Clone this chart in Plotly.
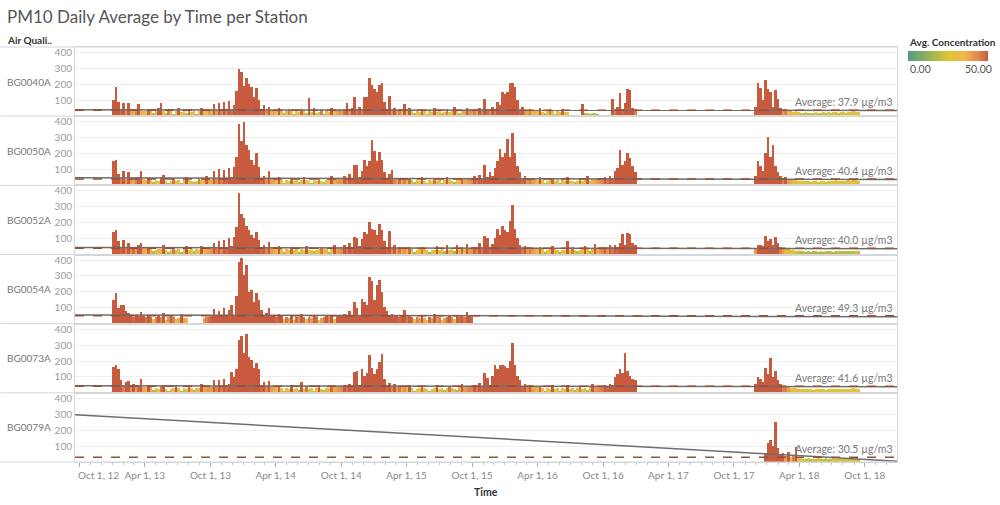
import pandas as pd
import plotly.graph_objects as go
from plotly.subplots import make_subplots

N = None
stations = ["BG0040A", "BG0050A", "BG0052A", "BG0054A", "BG0073A", "BG0079A"]
averages = [37.9, 40.4, 40.0, 49.3, 41.6, 30.5]
# trend line values read at the left and right ends of the time axis
trend_start = [40, 47, 44, 55, 45, 297]
trend_end = [36, 36, 36, 44, 38, 5]
x_start, x_end = "2012-09-18", "2018-12-30"
week0 = "2012-12-31"   # first weekly bucket, each year row holds 52 weeks
tick_dates = ["2012-10-01", "2013-04-01", "2013-10-01", "2014-04-01", "2014-10-01",
              "2015-04-01", "2015-10-01", "2016-04-01", "2016-10-01", "2017-04-01",
              "2017-10-01", "2018-04-01", "2018-10-01"]
tick_labels = ["Oct 1, 12", "Apr 1, 13", "Oct 1, 13", "Apr 1, 14", "Oct 1, 14",
               "Apr 1, 15", "Oct 1, 15", "Apr 1, 16", "Oct 1, 16", "Apr 1, 17",
               "Oct 1, 17", "Apr 1, 18", "Oct 1, 18"]

# weekly PM10 values (µg/m3), one row per year 2013..2018
bg0040a = [
    [100,185,90,48,85,42,80,40,38,45,74,36,35,
     32,48,35,18,30,52,80,30,22,45,34,16,30,50,26,32,20,46,28,36,15,33,52,30,36,42,
     38,75,40,85,44,90,46,95,48,70,160,295,280],
    [190,240,205,185,120,175,100,48,70,42,55,38,40,
     36,50,34,18,32,46,30,15,33,27,48,35,20,112,25,52,22,28,45,16,31,29,50,30,38,42,
     40,48,84,42,50,118,45,60,44,122,120,238,196],
    [170,150,198,210,90,48,126,42,50,38,45,35,76,
     34,50,36,18,32,25,48,33,15,30,28,52,26,31,17,29,46,27,32,55,36,20,33,38,50,42,
     40,45,38,50,44,105,48,42,60,46,91,70,154],
    [140,150,207,207,186,101,48,55,42,38,45,36,34,
     32,50,28,18,33,46,30,16,34,26,48,29,27,N,N,N,N,N,76,18,20,16,22,18,15,N,
     N,N,N,N,105,45,55,148,48,80,169,165,50],
    [45] + [N] * 47 + [60,207,180,100],
    [228,170,150,60,165,110,50,40,45,32,35,28,30,25,22,20,25,18,22,20,
     25,22,18,24,20,26,22,28,24,20,25,28,22,26,24,30,28,25],
]
bg0050a = [
    [150,160,70,45,86,40,80,42,38,45,50,86,36,
     34,48,36,18,32,26,50,65,25,16,27,46,24,30,15,35,52,31,29,18,27,45,30,36,55,40,
     38,90,42,100,45,95,48,110,50,114,180,382,276],
    [400,250,219,160,130,202,113,48,60,42,92,40,38,
     36,50,34,16,30,26,48,24,31,17,30,52,33,28,15,31,29,46,27,20,35,32,55,38,40,42,
     40,55,45,70,48,128,128,50,90,160,120,155,286],
    [213,150,210,160,80,48,70,97,44,40,48,38,45,
     36,48,34,18,30,27,50,25,16,33,26,46,24,32,15,30,52,33,28,18,31,36,48,38,40,42,
     44,55,46,65,48,128,50,80,60,110,150,230,180],
    [200,290,180,330,200,120,80,48,55,42,46,40,38,
     34,50,30,16,28,30,48,29,33,15,30,28,52,29,27,18,28,46,26,30,55,29,36,38,40,42,
     44,50,46,60,48,90,110,220,130,150,200,170,120],
    [80] + [N] * 47 + [60,150,120,90],
    [200,305,180,255,120,80,60,45,50,40,38,35,30,28,26,25,28,24,22,26,
     25,23,28,24,22,26,28,25,30,27,24,28,26,30,28,32,30,28],
]
bg0052a = [
    [140,150,80,48,90,45,70,42,48,40,60,70,38,
     36,48,35,18,28,33,31,55,27,16,25,46,29,33,15,32,50,27,30,18,31,29,52,35,38,40,
     42,70,45,80,44,90,48,100,50,110,170,385,250],
    [230,180,150,120,100,140,90,48,60,44,75,40,38,
     36,50,34,16,31,27,48,26,33,15,30,25,52,28,26,18,29,32,46,30,33,16,31,55,40,42,
     44,55,46,70,48,110,100,50,95,140,130,205,160],
    [150,120,187,150,80,48,144,44,55,40,46,38,42,
     36,48,31,16,28,30,46,32,29,15,27,29,50,28,30,18,60,29,32,17,60,30,48,35,66,40,
     42,48,44,70,46,117,100,48,65,102,159,120,180],
    [150,140,208,307,160,102,60,46,50,42,45,40,38,
     36,48,30,16,29,31,50,30,27,15,26,28,85,27,46,26,18,29,32,52,30,17,35,66,38,42,
     44,48,42,55,46,60,48,70,130,55,133,130,70],
    [60] + [N] * 47 + [40,60,55,50],
    [117,80,95,60,110,70,45,40,35,30,28,25,22,20,18,20,16,18,15,17,
     20,16,18,15,19,17,20,16,18,22,19,17,20,18,21,19,22,20],
]
bg0054a = [
    [154,196,100,118,118,85,70,55,48,60,52,76,50,
     46,60,48,30,45,58,44,71,25,42,55,45,30,38,62,40,36,N,N,N,N,N,N,40,45,48,
     50,97,55,80,52,103,58,90,118,60,180,392,414],
    [308,371,203,213,140,198,150,90,60,70,103,55,50,
     48,62,50,30,46,40,58,28,48,42,65,47,35,46,41,60,48,25,40,46,58,44,52,30,55,50,
     56,65,52,80,58,139,100,60,160,140,120,298,270],
    [150,245,277,200,110,80,60,65,52,55,48,58,91,
     46,60,48,30,45,41,58,38,25,48,40,62,42,45,28,40,47,60,44,30,52,48,55,46,76,50,
     48],
]
bg0073a = [
    [166,177,155,80,45,70,78,42,55,40,48,92,38,
     36,50,38,18,33,28,46,50,27,16,26,34,52,31,15,33,28,48,34,18,32,30,55,38,40,42,
     40,80,44,85,46,92,48,60,134,100,150,335,360],
    [252,373,230,208,160,191,150,48,70,44,75,40,38,
     36,48,34,16,33,28,50,26,32,17,70,27,46,29,31,15,34,52,28,18,30,35,48,38,40,42,
     44,50,46,60,48,134,140,52,152,110,130,240,160],
    [120,150,198,246,90,48,65,44,55,40,46,38,42,
     36,50,30,16,28,31,48,32,29,15,27,33,52,28,31,18,32,46,35,29,17,38,55,40,42,45,
     44,50,46,65,48,130,95,50,110,175,150,175,180],
    [170,160,200,315,180,110,80,48,60,44,50,40,38,
     36,48,32,16,33,28,50,27,30,15,33,29,52,27,31,18,30,46,28,32,17,36,55,40,42,44,
     46,50,48,60,50,100,120,150,130,252,140,110,90],
    [80] + [N] * 47 + [55,100,90,70],
    [158,120,220,100,140,80,60,45,45,40,35,32,30,28,26,25,27,24,26,22,
     25,28,24,26,23,27,25,28,26,24,27,29,25,28,26,30,28,26],
]
bg0079a = [
    [], [], [], [], [],
    [60,120,139,100,255,90,50,60,40,65,35,45,93,30,25,22,20,24,18,22,
     20,25,18,21,24,19,22,26,20,23,25,21,24,22,26,23,25,22],
]
station_data = [bg0040a, bg0050a, bg0052a, bg0054a, bg0073a, bg0079a]

colorscale = [[0.0, "#4e9c80"], [0.25, "#93b25a"], [0.5, "#dcc634"],
              [0.72, "#f0b546"], [0.87, "#df8a52"], [1.0, "#c85a3e"]]

W, H = 1000, 505
L, R, T, B = 75, 100, 47, 43
PW, PH = W - L - R, H - T - B
FONT = "Lato"


def px(xp):
    return (xp - L) / PW


def py(yp):
    return (H - B - yp) / PH


fig = make_subplots(rows=6, cols=1, shared_xaxes=True, vertical_spacing=0)

base = pd.Timestamp(week0)
for i, (name, years) in enumerate(zip(stations, station_data)):
    xs, ys = [], []
    for yi, vals in enumerate(years):
        for k, v in enumerate(vals):
            if v is None:
                continue
            xs.append(base + pd.Timedelta(days=7 * (52 * yi + k) + 3.5))
            ys.append(v)
    marker = dict(color=ys, colorscale=colorscale, cmin=0, cmax=50, line=dict(width=0))
    if i == 0:
        marker.update(showscale=True, colorbar=dict(
            orientation="h", x=px(911), xanchor="left", y=py(51), yanchor="top",
            len=80, lenmode="pixels", thickness=10, thicknessmode="pixels",
            showticklabels=False, ticks="", outlinewidth=0, xpad=0, ypad=0))
    else:
        marker.update(showscale=False)
    fig.add_trace(go.Bar(x=xs, y=ys, marker=marker, width=7 * 86400000,
                         showlegend=False, hoverinfo="x+y"), row=i + 1, col=1)
    fig.add_trace(go.Scatter(x=[x_start, x_end], y=[trend_start[i], trend_end[i]],
                             mode="lines", line=dict(color="#6e6e6e", width=1.5),
                             showlegend=False, hoverinfo="skip"), row=i + 1, col=1)
    fig.add_trace(go.Scatter(x=[x_start, x_end], y=[averages[i], averages[i]],
                             mode="lines", line=dict(color="#93503c", width=1.5, dash="dash"),
                             showlegend=False, hoverinfo="skip"), row=i + 1, col=1)
    yref = "y" if i == 0 else f"y{i + 1}"
    xref = "x" if i == 0 else f"x{i + 1}"
    fig.add_annotation(x=x_end, y=averages[i], xref=xref, yref=yref, xanchor="right",
                       yanchor="bottom", xshift=-2, yshift=0, showarrow=False,
                       text=f"Average: {averages[i]:.1f} µg/m3",
                       font=dict(family=FONT, size=10.5, color="#7a7a7a"))
    fig.add_annotation(x=px(5), y=py(T + PH / 6 * (i + 0.5)), xref="paper", yref="paper",
                       xanchor="left", yanchor="middle", showarrow=False, text=name,
                       font=dict(family=FONT, size=10, color="#777777"))

fig.update_yaxes(range=[0, 435], tickvals=[100, 200, 300, 400], showgrid=True,
                 gridcolor="#efefef", gridwidth=1, zeroline=False, showline=True,
                 linecolor="#d6d6d6", linewidth=1, mirror=True, ticks="",
                 tickfont=dict(family=FONT, size=10, color="#9a9a9a"))
fig.update_xaxes(type="date", range=[x_start, x_end], showgrid=False, zeroline=False,
                 showline=True, linecolor="#d6d6d6", linewidth=1, mirror=True, ticks="",
                 tickvals=tick_dates, ticktext=[""] + tick_labels[1:])
fig.update_xaxes(row=6, col=1, ticks="outside", ticklen=4, tickcolor="#aaaaaa",
                 showticklabels=True,
                 tickfont=dict(family=FONT, size=10, color="#8a8a8a"),
                 minor=dict(ticks="outside", ticklen=2, tickcolor="#c0c0c0",
                            dtick="M1", tick0="2012-10-01"))

annos = [
    dict(x=px(5), y=py(17), text="PM10 Daily Average by Time per Station",
         font=dict(family=FONT, size=17, color="#555555"), xanchor="left", yanchor="middle"),
    dict(x=px(5), y=py(40), text="<b>Air Quali..</b>",
         font=dict(family=FONT, size=10, color="#333333"), xanchor="left", yanchor="middle"),
    dict(x=px(910), y=py(42), text="<b>Avg. Concentration</b>",
         font=dict(family=FONT, size=10, color="#333333"), xanchor="left", yanchor="middle"),
    dict(x=px(911), y=py(69), text="0.00",
         font=dict(family=FONT, size=10.5, color="#555555"), xanchor="left", yanchor="middle"),
    dict(x=px(997), y=py(69), text="50.00",
         font=dict(family=FONT, size=10.5, color="#555555"), xanchor="right", yanchor="middle"),
    dict(x=px(487), y=py(492), text="<b>Time</b>",
         font=dict(family=FONT, size=10.5, color="#333333"), xanchor="center", yanchor="middle"),
    dict(x=px(76), y=py(475), text=tick_labels[0],
         font=dict(family=FONT, size=10, color="#8a8a8a"), xanchor="left", yanchor="middle"),
]
for a in annos:
    fig.add_annotation(xref="paper", yref="paper", showarrow=False, **a)

shapes = []
for j in range(7):
    yy = 1 - j / 6
    shapes.append(dict(type="line", xref="paper", yref="paper", x0=px(0), x1=1,
                       y0=yy, y1=yy, line=dict(color="#d6d6d6", width=1)))
shapes.append(dict(type="line", xref="paper", yref="paper", x0=px(951), x1=px(951),
                   y0=py(58), y1=py(61), line=dict(color="#333333", width=1)))
fig.update_layout(shapes=shapes)

fig.update_layout(width=W, height=H, margin=dict(l=L, r=R, t=T, b=B),
                  paper_bgcolor="white", plot_bgcolor="white", bargap=0,
                  font=dict(family=FONT), showlegend=False)

fig.write_html("out.html")
